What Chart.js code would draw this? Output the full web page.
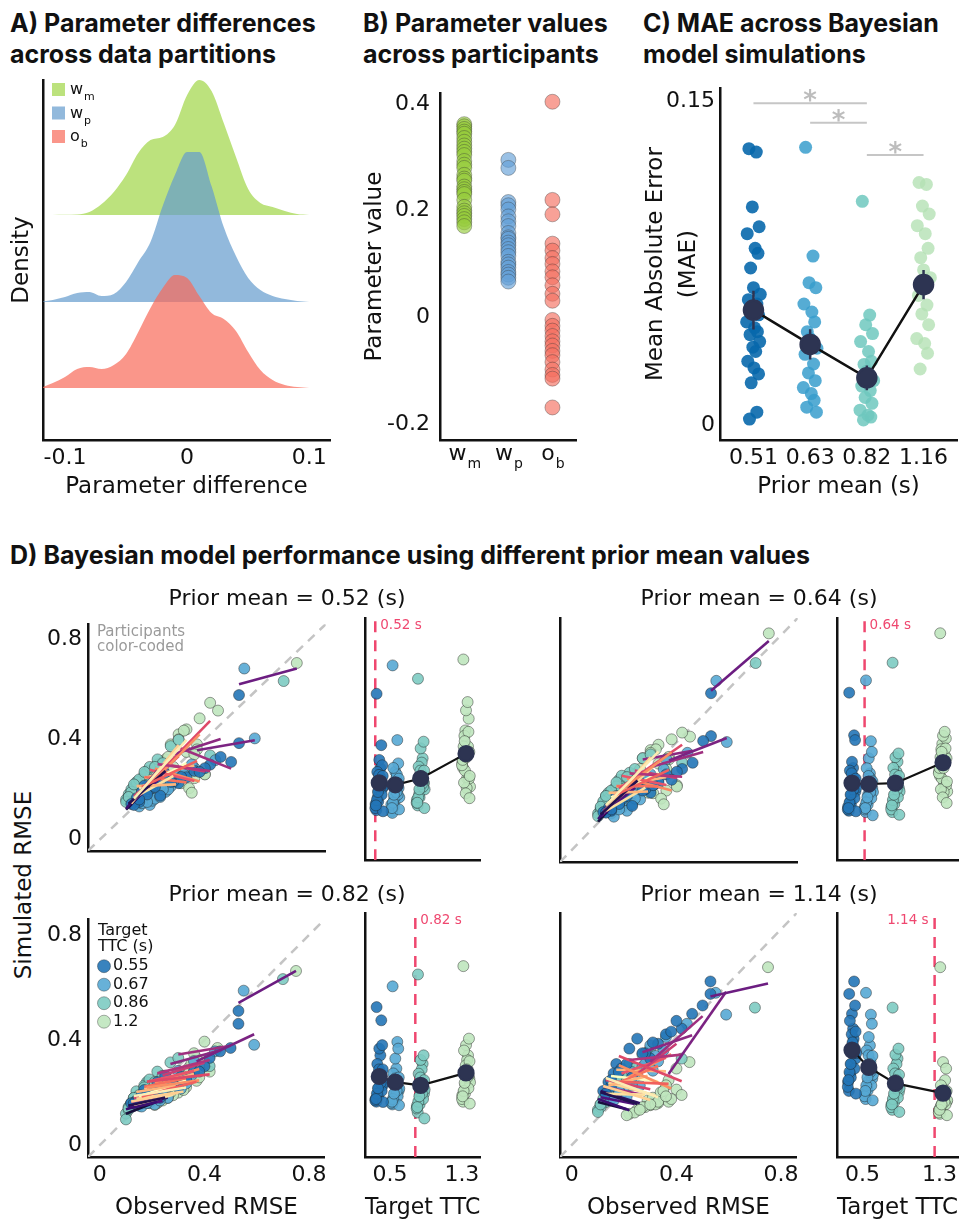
<!DOCTYPE html>
<html>
<head>
<meta charset="utf-8">
<title>Parameter and Bayesian model figure</title>
<script src="https://cdn.jsdelivr.net/npm/chart.js@4.4.1/dist/chart.umd.min.js"></script>
<style>
  body { margin: 0; background: #fff; }
  #fig { position: relative; width: 969px; height: 1223px; overflow: hidden; font-family: "DejaVu Sans", sans-serif; color: #111; }
  #fig canvas { position: absolute; }
  .head { position: absolute; z-index: 2; font-family: Inter, sans-serif; font-weight: 700; font-size: 25px; line-height: 31px; white-space: nowrap; }
  .sub { position: absolute; z-index: 2; font-size: 22px; line-height: 26px; white-space: nowrap; transform: translateX(-50%); }
  .ylab { position: absolute; z-index: 2; font-size: 23px; white-space: nowrap; transform: translate(-50%, -50%) rotate(-90deg); }
</style>
</head>
<body>
<div id="fig">
  <div class="head" style="left:10px;top:8px">A) Parameter differences<br>across data partitions</div>
  <div class="head" style="left:363px;top:8px">B) Parameter values<br>across participants</div>
  <div class="head" style="left:643px;top:8px">C) MAE across Bayesian<br>model simulations</div>
  <div class="head" style="left:10px;top:540px">D) Bayesian model performance using different prior mean values</div>
  <div class="ylab" style="left:23px;top:885px">Simulated RMSE</div>
  <canvas id="cA" width="335" height="440" style="left:0;top:70px"></canvas>
  <canvas id="cB" width="240" height="440" style="left:345px;top:70px"></canvas>
  <canvas id="cC" width="339" height="440" style="left:630px;top:70px"></canvas>
</div>
<script>
// ---------- A) parameter differences (density, read off the ridges) ----------
const densX  = [-0.12, -0.11, -0.10, -0.09, -0.08, -0.07, -0.06, -0.05, -0.04, -0.03, -0.02, -0.01, 0, 0.01, 0.02, 0.03, 0.04, 0.05, 0.06, 0.07, 0.08, 0.09, 0.10];
const densWm = [0, 0, 0.02, 0.05, 0.3, 1.1, 2.3, 4.0, 6.2, 7.5, 7.8, 9.0, 12.0, 13.5, 12.4, 9.2, 5.8, 2.6, 1.2, 0.8, 0.4, 0.1, 0];
const densWp = [0, 0.2, 0.5, 0.9, 1.0, 0.6, 0.8, 2.0, 4.0, 6.0, 9.6, 12.7, 15.0, 15.0, 11.6, 7.5, 4.6, 2.4, 1.2, 0.6, 0.3, 0.1, 0];
const densOb = [0, 0.5, 1.1, 1.9, 2.1, 1.9, 2.3, 3.4, 5.6, 8.0, 10.0, 11.3, 11.0, 9.2, 7.5, 6.9, 5.7, 3.6, 1.8, 0.8, 0.3, 0.1, 0];
const diffTicks = [-0.1, 0, 0.1];
const diffTickLabels = ['-0.1', '0', '0.1'];

// ---------- B) parameter values per participant ----------
const paramNames = [['w', 'm'], ['w', 'p'], ['o', 'b']];
const valWm = [0.362, 0.358, 0.353, 0.348, 0.344, 0.336, 0.329, 0.322, 0.316, 0.31, 0.304, 0.293, 0.286, 0.28, 0.267, 0.26, 0.256, 0.245, 0.24, 0.235, 0.231, 0.22, 0.207, 0.2, 0.195, 0.19, 0.184, 0.178, 0.171];
const valWp = [0.295, 0.28, 0.216, 0.21, 0.202, 0.189, 0.18, 0.171, 0.158, 0.15, 0.147, 0.14, 0.135, 0.128, 0.122, 0.115, 0.104, 0.099, 0.093, 0.085, 0.08, 0.074, 0.067];
const valOb = [0.404, 0.22, 0.193, 0.138, 0.125, 0.111, 0.1, 0.086, 0.075, 0.06, 0.044, 0.031, -0.005, -0.016, -0.025, -0.035, -0.045, -0.053, -0.063, -0.071, -0.084, -0.098, -0.108, -0.115, -0.169];
const valTicks = [-0.2, 0, 0.2, 0.4];
const valTickLabels = ['-0.2', '0', '0.2', '0.4'];

// ---------- C) MAE per simulated prior mean ----------
const priorLabelsC = ['0.51', '0.63', '0.82', '1.16'];
const mae051 = [0.128, 0.1264, 0.101, 0.0918, 0.0886, 0.0818, 0.0795, 0.0727, 0.0636, 0.0605, 0.058, 0.056, 0.053, 0.051, 0.0477, 0.045, 0.0432, 0.0418, 0.0386, 0.036, 0.034, 0.0295, 0.0264, 0.0236, 0.0195, 0.0059, 0.0027];
const mae063 = [0.1286, 0.0782, 0.0659, 0.0636, 0.056, 0.0523, 0.0477, 0.0432, 0.04, 0.0355, 0.0327, 0.0282, 0.0241, 0.0205, 0.0173, 0.0145, 0.0114, 0.0082, 0.0059];
const mae082 = [0.1036, 0.0509, 0.0464, 0.0423, 0.0386, 0.034, 0.0295, 0.028, 0.025, 0.0205, 0.018, 0.0159, 0.0127, 0.01, 0.0068, 0.0045, 0.0036, 0.0023];
const mae116 = [0.1123, 0.1114, 0.1014, 0.0977, 0.0923, 0.0886, 0.0818, 0.0775, 0.0718, 0.0682, 0.06, 0.0555, 0.0514, 0.0464, 0.04, 0.0377, 0.0332, 0.0259];
const maeMean = [0.0532, 0.0373, 0.0218, 0.065];
const maeSE = [0.009, 0.007, 0.0057, 0.0068];
const maeTicks = [0, 0.15];
const maeTickLabels = ['0', '0.15'];
const sigPairs = [[1, 3, 0.149], [2, 3, 0.140], [3, 4, 0.125]];

// ---------- D) observed vs simulated RMSE, 26 participants ----------
const ttcLevels = [0.55, 0.67, 0.86, 1.2];
const priorMeans = [0.52, 0.64, 0.82, 1.14];
const obs055 = [0.53, 0.53, 0.17, 0.30, 0.14, 0.42, 0.22, 0.16, 0.46, 0.28, 0.12, 0.25, 0.23, 0.50, 0.15, 0.33, 0.19, 0.40, 0.13, 0.36, 0.27, 0.18, 0.38, 0.15, 0.31, 0.21];
const obs067 = [0.55, 0.59, 0.22, 0.24, 0.19, 0.30, 0.31, 0.20, 0.36, 0.25, 0.15, 0.33, 0.18, 0.44, 0.21, 0.27, 0.26, 0.35, 0.16, 0.29, 0.23, 0.23, 0.32, 0.18, 0.28, 0.24];
const obs086 = [0.70, 0.42, 0.13, 0.16, 0.11, 0.22, 0.18, 0.12, 0.27, 0.14, 0.10, 0.18, 0.13, 0.30, 0.11, 0.17, 0.14, 0.24, 0.10, 0.19, 0.15, 0.12, 0.21, 0.11, 0.17, 0.13];
const obs120 = [0.75, 0.37, 0.33, 0.37, 0.25, 0.40, 0.38, 0.30, 0.45, 0.29, 0.22, 0.42, 0.28, 0.40, 0.24, 0.31, 0.32, 0.36, 0.21, 0.34, 0.33, 0.27, 0.35, 0.26, 0.36, 0.30];

const sim052_t055 = [0.577, 0.385, 0.215, 0.225, 0.165, 0.299, 0.24, 0.19, 0.33, 0.232, 0.142, 0.262, 0.175, 0.31, 0.15, 0.249, 0.2, 0.285, 0.138, 0.274, 0.23, 0.18, 0.27, 0.16, 0.25, 0.21];
const sim052_t067 = [0.683, 0.404, 0.175, 0.225, 0.138, 0.261, 0.25, 0.155, 0.286, 0.19, 0.132, 0.275, 0.187, 0.317, 0.163, 0.212, 0.2, 0.30, 0.145, 0.236, 0.21, 0.17, 0.26, 0.15, 0.24, 0.20];
const sim052_t086 = [0.633, 0.336, 0.212, 0.243, 0.181, 0.32, 0.25, 0.2, 0.373, 0.22, 0.16, 0.274, 0.19, 0.398, 0.17, 0.26, 0.23, 0.305, 0.15, 0.29, 0.24, 0.19, 0.29, 0.17, 0.27, 0.22];
const sim052_t120 = [0.705, 0.38, 0.44, 0.36, 0.32, 0.261, 0.484, 0.42, 0.515, 0.23, 0.30, 0.546, 0.29, 0.26, 0.31, 0.225, 0.435, 0.245, 0.27, 0.205, 0.35, 0.38, 0.187, 0.33, 0.34, 0.40];

const sim064_t055 = [0.581, 0.422, 0.2, 0.212, 0.155, 0.30, 0.235, 0.175, 0.323, 0.225, 0.14, 0.265, 0.163, 0.404, 0.145, 0.249, 0.187, 0.29, 0.138, 0.28, 0.22, 0.17, 0.26, 0.15, 0.24, 0.20];
const sim064_t067 = [0.627, 0.40, 0.2, 0.225, 0.155, 0.28, 0.24, 0.175, 0.336, 0.21, 0.135, 0.261, 0.163, 0.36, 0.145, 0.25, 0.187, 0.299, 0.123, 0.27, 0.21, 0.17, 0.25, 0.15, 0.23, 0.19];
const sim064_t086 = [0.693, 0.323, 0.2, 0.225, 0.155, 0.286, 0.249, 0.175, 0.34, 0.212, 0.135, 0.26, 0.165, 0.354, 0.145, 0.235, 0.19, 0.30, 0.125, 0.275, 0.22, 0.18, 0.27, 0.16, 0.25, 0.20];
const sim064_t120 = [0.803, 0.345, 0.39, 0.336, 0.286, 0.24, 0.41, 0.37, 0.42, 0.212, 0.27, 0.435, 0.26, 0.235, 0.28, 0.21, 0.373, 0.22, 0.249, 0.19, 0.32, 0.34, 0.169, 0.30, 0.30, 0.36];

const sim082_t055 = [0.511, 0.462, 0.21, 0.22, 0.17, 0.332, 0.24, 0.19, 0.357, 0.23, 0.16, 0.265, 0.18, 0.37, 0.165, 0.25, 0.2, 0.30, 0.159, 0.28, 0.23, 0.19, 0.28, 0.17, 0.26, 0.21];
const sim082_t067 = [0.588, 0.382, 0.19, 0.2, 0.16, 0.283, 0.215, 0.172, 0.32, 0.209, 0.15, 0.235, 0.165, 0.357, 0.155, 0.225, 0.18, 0.265, 0.147, 0.246, 0.20, 0.17, 0.25, 0.16, 0.23, 0.19];
const sim082_t086 = [0.632, 0.301, 0.18, 0.19, 0.145, 0.28, 0.215, 0.159, 0.315, 0.205, 0.12, 0.24, 0.15, 0.332, 0.135, 0.227, 0.17, 0.264, 0.098, 0.25, 0.19, 0.16, 0.24, 0.14, 0.22, 0.18];
const sim082_t120 = [0.663, 0.332, 0.221, 0.245, 0.184, 0.315, 0.258, 0.2, 0.37, 0.232, 0.16, 0.28, 0.19, 0.394, 0.17, 0.27, 0.21, 0.35, 0.153, 0.295, 0.25, 0.20, 0.31, 0.18, 0.28, 0.23];

const sim114_t055 = [0.56, 0.606, 0.30, 0.32, 0.233, 0.431, 0.357, 0.265, 0.486, 0.34, 0.2, 0.394, 0.25, 0.517, 0.215, 0.375, 0.283, 0.46, 0.19, 0.41, 0.34, 0.27, 0.42, 0.24, 0.38, 0.30];
const sim114_t067 = [0.564, 0.483, 0.235, 0.246, 0.19, 0.369, 0.275, 0.21, 0.40, 0.26, 0.17, 0.31, 0.202, 0.449, 0.18, 0.289, 0.22, 0.35, 0.165, 0.332, 0.27, 0.22, 0.33, 0.20, 0.30, 0.25];
const sim114_t086 = [0.509, 0.32, 0.185, 0.196, 0.15, 0.30, 0.22, 0.165, 0.335, 0.21, 0.13, 0.25, 0.159, 0.357, 0.14, 0.233, 0.175, 0.283, 0.122, 0.265, 0.21, 0.17, 0.26, 0.15, 0.24, 0.19];
const sim114_t120 = [0.659, 0.24, 0.155, 0.16, 0.13, 0.205, 0.17, 0.147, 0.307, 0.165, 0.115, 0.185, 0.14, 0.283, 0.12, 0.175, 0.15, 0.221, 0.11, 0.195, 0.16, 0.14, 0.20, 0.13, 0.18, 0.15];

const rmseTicks = [0, 0.4, 0.8];
const rmseTickLabels = ['0', '0.4', '0.8'];
const ttcTicks = [0.5, 1.3];
const ttcTickLabels = ['0.5', '1.3'];

// ---------- styles / layout ----------
const ridgeBase = [22.5, 13.8, 5.2];
const ridgeColors = ['rgba(160,214,70,0.7)', 'rgba(100,155,205,0.7)', 'rgba(248,105,88,0.7)'];
const paramColors = ['rgba(150,205,60,0.65)', 'rgba(100,160,215,0.65)', 'rgba(245,110,95,0.65)'];
const maeColors = ['rgba(8,104,172,0.9)', 'rgba(56,157,204,0.85)', 'rgba(110,200,190,0.85)', 'rgba(180,225,180,0.8)'];
const ttcColors = ['rgba(35,118,183,0.9)', 'rgba(86,168,212,0.9)', 'rgba(125,203,194,0.9)', 'rgba(191,230,190,0.9)'];
const lineColors = ['#6c1d81', '#7b2382', '#fcecb3', '#f1605d', '#231151', '#b0357b', '#fa8e63', '#fecf92', '#8c2981', '#feb47a',
                    '#3b0f70', '#de4968', '#fde0a0', '#9e2f7f', '#51127c', '#f7705c', '#fed395', '#c83e73', '#160f3b', '#e9556a',
                    '#fcfdbf', '#a3307e', '#fb8861', '#2c115f', '#feb77e', '#d6456c'];
const navy = '#2d3452';
const priorRed = '#ef476f';
const jitterC = [-0.08, 0.05, -0.02, 0.10, -0.11, 0.03, 0.08, -0.05, 0.00, 0.12, -0.09, 0.06, -0.03, 0.09,
                 -0.12, 0.02, 0.07, -0.06, 0.11, -0.01, 0.04, -0.10, 0.01, 0.09, -0.04, 0.06, -0.07, 0.03];
const jitterD = [-0.02, 0.015, -0.005, 0.025, -0.028, 0.008, 0.02, -0.012, 0, 0.03, -0.022, 0.012, -0.008,
                 0.022, -0.03, 0.005, 0.018, -0.015, 0.028, -0.002, 0.01, -0.018, 0.026, -0.025, 0.004, -0.01];
const dLayout = [
  {sx: 40,  sw: 292, sy: 48, tx: 355, tw: 135, tr: 4,  top: 605, row: 0, mid: 287},
  {sx: 540, sw: 264, sy: 20, tx: 827, tw: 142, tr: 11, top: 605, row: 0, mid: 759},
  {sx: 40,  sw: 292, sy: 48, tx: 355, tw: 135, tr: 4,  top: 900, row: 1, mid: 287},
  {sx: 540, sw: 264, sy: 20, tx: 827, tw: 142, tr: 11, top: 900, row: 1, mid: 759}
];

Chart.defaults.font.family = '"DejaVu Sans", sans-serif';
Chart.defaults.color = '#111';
Chart.defaults.animation = false;
Chart.defaults.events = [];
Chart.defaults.plugins.legend.display = false;
Chart.defaults.plugins.tooltip.enabled = false;

// ---------- helpers ----------
function mean(a) { return a.reduce((s, v) => s + v, 0) / a.length; }

function fitLine(xs, ys) {
  const mx = mean(xs), my = mean(ys);
  let sxy = 0, sxx = 0;
  xs.forEach((x, i) => { sxy += (x - mx) * (ys[i] - my); sxx += (x - mx) * (x - mx); });
  const b = sxx ? sxy / sxx : 0;
  const lo = Math.min(...xs), hi = Math.max(...xs);
  return [{x: lo, y: my + b * (lo - mx)}, {x: hi, y: my + b * (hi - mx)}];
}

function fixSize(px) {
  return s => { if (s.isHorizontal()) s.height = px; else s.width = px; };
}
function useTicks(vals) {
  return s => { s.ticks = vals.map(v => ({value: v})); };
}
function tickText(vals, labels) {
  return v => { const i = vals.indexOf(v); return i < 0 ? '' : labels[i]; };
}
function axis(extra) {
  return Object.assign({
    type: 'linear',
    grid: {display: false, drawTicks: false},
    border: {color: '#111', width: 2.5}
  }, extra);
}
function ticksOn(vals, labels, pad, more) {
  return Object.assign({padding: pad, font: {size: 22}, maxRotation: 0, autoSkip: false,
                        callback: tickText(vals, labels)}, more || {});
}
function drawSub(ctx, base, sub, x, y, bs, ss, align) {
  ctx.font = bs + 'px "DejaVu Sans"';
  const wb = ctx.measureText(base).width;
  ctx.font = ss + 'px "DejaVu Sans"';
  const ws = ctx.measureText(sub).width;
  const x0 = align === 'center' ? x - (wb + ws) / 2 : x;
  ctx.textAlign = 'left';
  ctx.textBaseline = 'alphabetic';
  ctx.font = bs + 'px "DejaVu Sans"';
  ctx.fillText(base, x0, y);
  ctx.font = ss + 'px "DejaVu Sans"';
  ctx.fillText(sub, x0 + wb + 1, y + ss * 0.55);
}
function pointSet(points, color, r, border, order) {
  return {data: points, showLine: false, pointRadius: r, pointBackgroundColor: color,
          pointBorderColor: border || color, pointBorderWidth: border ? 0.8 : 0, order: order || 1};
}
const baseOpts = {responsive: false, devicePixelRatio: 1};

// ---------- A ----------
const legendA = {
  id: 'legendA',
  afterDraw(chart) {
    const {ctx, chartArea: a} = chart;
    ctx.save();
    paramNames.forEach((n, i) => {
      const y = a.top + 3 + i * 23.5;
      ctx.fillStyle = ridgeColors[i];
      ctx.fillRect(a.left + 9, y, 13, 13);
      ctx.fillStyle = '#111';
      drawSub(ctx, n[0], n[1], a.left + 27, y + 11, 16, 11, 'left');
    });
    ctx.restore();
  }
};
new Chart(document.getElementById('cA'), {
  type: 'line',
  data: {
    datasets: [densOb, densWp, densWm].map((d, k) => {
      const i = 2 - k;
      return {
        data: densX.map((x, j) => ({x, y: ridgeBase[i] + d[j]})),
        fill: {value: ridgeBase[i]}, backgroundColor: ridgeColors[i],
        borderWidth: 0, borderColor: 'rgba(0,0,0,0)', pointRadius: 0, cubicInterpolationMode: 'monotone'
      };
    })
  },
  options: Object.assign({}, baseOpts, {
    layout: {padding: {top: 10, right: 5, left: 0, bottom: 0}},
    scales: {
      x: axis({min: -0.118, max: 0.117, afterBuildTicks: useTicks(diffTicks), afterFit: fixSize(70),
               ticks: ticksOn(diffTicks, diffTickLabels, 5),
               title: {display: true, text: 'Parameter difference', font: {size: 23}, padding: {top: 0, bottom: 9}}}),
      y: axis({min: 0, max: 36, afterFit: fixSize(43), ticks: {display: false},
               title: {display: true, text: 'Density', font: {size: 23}, padding: {top: 8, bottom: 0}}})
    }
  }),
  plugins: [legendA]
});

// ---------- B ----------
const subTicksB = {
  id: 'subTicksB',
  afterDraw(chart) {
    const {ctx, chartArea: a} = chart;
    ctx.save();
    ctx.fillStyle = '#111';
    paramNames.forEach((n, i) => {
      drawSub(ctx, n[0], n[1], chart.scales.x.getPixelForValue(i + 1), a.bottom + 20, 22, 14, 'center');
    });
    ctx.restore();
  }
};
new Chart(document.getElementById('cB'), {
  type: 'line',
  data: {
    datasets: [valWm, valWp, valOb].map((vals, i) =>
      pointSet(vals.map(v => ({x: i + 1, y: v})), paramColors[i], 7.5, 'rgba(50,50,50,0.45)'))
  },
  options: Object.assign({}, baseOpts, {
    layout: {padding: {top: 13, right: 5, left: 0, bottom: 0}},
    scales: {
      x: axis({min: 0.45, max: 3.55, afterFit: fixSize(70), ticks: {display: false}}),
      y: axis({min: -0.23, max: 0.42, afterBuildTicks: useTicks(valTicks), afterFit: fixSize(95),
               ticks: ticksOn(valTicks, valTickLabels, 10),
               title: {display: true, text: 'Parameter value', font: {size: 23}, padding: {top: 16, bottom: 0}}})
    }
  }),
  plugins: [subTicksB]
});

// ---------- C ----------
const sigBars = {
  id: 'sigBars',
  afterDatasetsDraw(chart) {
    const {ctx, scales: {x, y}} = chart;
    ctx.save();
    ctx.strokeStyle = '#c6c6c6';
    ctx.lineWidth = 2;
    ctx.fillStyle = '#bdbdbd';
    ctx.font = 'bold 26px "DejaVu Sans"';
    ctx.textAlign = 'center';
    ctx.textBaseline = 'alphabetic';
    sigPairs.forEach(([g1, g2, h]) => {
      const py = y.getPixelForValue(h);
      ctx.beginPath();
      ctx.moveTo(x.getPixelForValue(g1), py);
      ctx.lineTo(x.getPixelForValue(g2), py);
      ctx.stroke();
      ctx.fillText('*', x.getPixelForValue((g1 + g2) / 2), py + 6);
    });
    ctx.restore();
  }
};
const errData = [];
maeMean.forEach((m, i) => {
  errData.push({x: i + 1, y: m - maeSE[i]}, {x: i + 1, y: m + maeSE[i]}, {x: i + 1, y: null});
});
new Chart(document.getElementById('cC'), {
  type: 'line',
  data: {
    datasets: [
      {data: maeMean.map((m, i) => ({x: i + 1, y: m})), borderColor: '#111', borderWidth: 2.5,
       pointRadius: 9.5, pointBackgroundColor: navy, pointBorderColor: navy, order: 0},
      {data: errData, borderColor: navy, borderWidth: 2.5, pointRadius: 0, spanGaps: false, order: 0},
      ...[mae051, mae063, mae082, mae116].map((vals, g) =>
        pointSet(vals.map((v, j) => ({x: g + 1 + jitterC[j], y: v})), maeColors[g], 6.5, null, 2))
    ]
  },
  options: Object.assign({}, baseOpts, {
    layout: {padding: {top: 12, right: 2, left: 0, bottom: 0}},
    scales: {
      x: axis({min: 0.41, max: 4.59, afterBuildTicks: useTicks([1, 2, 3, 4]), afterFit: fixSize(70),
               ticks: ticksOn([1, 2, 3, 4], priorLabelsC, 5),
               title: {display: true, text: 'Prior mean (s)', font: {size: 23}, padding: {top: 0, bottom: 9}}}),
      y: axis({min: -0.007, max: 0.156, afterBuildTicks: useTicks(maeTicks), afterFit: fixSize(90),
               ticks: ticksOn(maeTicks, maeTickLabels, 5),
               title: {display: true, text: ['Mean Absolute Error', '(MAE)'], font: {size: 23, lineHeight: 1.43},
                       padding: {top: 9.5, bottom: 0}}})
    }
  }),
  plugins: [sigBars]
});

// ---------- D ----------
const obsByTtc = [obs055, obs067, obs086, obs120];
const simsByPrior = [
  [sim052_t055, sim052_t067, sim052_t086, sim052_t120],
  [sim064_t055, sim064_t067, sim064_t086, sim064_t120],
  [sim082_t055, sim082_t067, sim082_t086, sim082_t120],
  [sim114_t055, sim114_t067, sim114_t086, sim114_t120]
];

const priorTag = {
  id: 'priorTag',
  afterDatasetsDraw(chart, args, opts) {
    const {ctx, chartArea: a} = chart;
    const px = chart.scales.x.getPixelForValue(opts.value);
    const text = opts.value.toFixed(2) + ' s';
    ctx.save();
    ctx.font = '13.5px "DejaVu Sans"';
    ctx.fillStyle = priorRed;
    ctx.textBaseline = 'middle';
    const flip = px + 6 + ctx.measureText(text).width > a.right;
    ctx.textAlign = flip ? 'right' : 'left';
    ctx.fillText(text, flip ? px - 6 : px + 5, a.top + 7);
    ctx.restore();
  }
};
const noteTL = {
  id: 'noteTL',
  afterDraw(chart) {
    const {ctx, chartArea: a} = chart;
    ctx.save();
    ctx.font = '15px "DejaVu Sans"';
    ctx.fillStyle = '#9a9a9a';
    ctx.textAlign = 'left';
    ctx.textBaseline = 'middle';
    ctx.fillText('Participants', a.left + 9, a.top + 8);
    ctx.fillText('color-coded', a.left + 9, a.top + 23);
    ctx.restore();
  }
};
const ttcLegend = {
  id: 'ttcLegend',
  afterDraw(chart) {
    const {ctx, chartArea: a} = chart;
    ctx.save();
    ctx.font = '16px "DejaVu Sans"';
    ctx.textAlign = 'left';
    ctx.textBaseline = 'middle';
    ctx.fillStyle = '#111';
    ctx.fillText('Target', a.left + 10, a.top + 12);
    ctx.fillText('TTC (s)', a.left + 10, a.top + 28);
    ttcLevels.forEach((t, g) => {
      const y = a.top + 47 + g * 18.5;
      ctx.beginPath();
      ctx.arc(a.left + 16, y, 6.5, 0, Math.PI * 2);
      ctx.fillStyle = ttcColors[g];
      ctx.fill();
      ctx.strokeStyle = 'rgba(30,30,30,0.5)';
      ctx.lineWidth = 0.7;
      ctx.stroke();
      ctx.fillStyle = '#111';
      ctx.fillText(String(t), a.left + 25, y);
    });
    ctx.restore();
  }
};

function addCanvas(left, top, w, h) {
  const c = document.createElement('canvas');
  c.width = w; c.height = h;
  c.style.left = left + 'px'; c.style.top = top + 'px';
  document.getElementById('fig').appendChild(c);
  return c;
}

priorMeans.forEach((prior, k) => {
  const L = dLayout[k];
  const sims = simsByPrior[k];
  const bottom = L.row === 1;
  const h = bottom ? 323 : 265;
  const xh = bottom ? 66 : 8;

  const t = document.createElement('div');
  t.className = 'sub';
  t.style.left = L.mid + 'px';
  t.style.top = (bottom ? 881 : 585) + 'px';
  t.textContent = 'Prior mean = ' + prior.toFixed(2) + ' (s)';
  document.getElementById('fig').appendChild(t);

  // observed vs simulated scatter with per-participant fits
  const scatterSets = [
    {data: [{x: -0.045, y: -0.045}, {x: 0.86, y: 0.86}], borderColor: '#c4c4c4', borderWidth: 2.5,
     borderDash: [9, 7], pointRadius: 0, order: 3},
    ...ttcLevels.map((lvl, g) =>
      pointSet(obsByTtc[g].map((x, i) => ({x, y: sims[g][i]})), ttcColors[g], 5.5, 'rgba(30,30,30,0.55)', 2)),
    ...lineColors.map((c, i) => ({
      data: fitLine(obsByTtc.map(a => a[i]), sims.map(a => a[i])),
      borderColor: c, borderWidth: 2.6, pointRadius: 0, order: 1
    }))
  ];
  const scatterPlugins = [];
  if (k === 0) scatterPlugins.push(noteTL);
  if (k === 2) scatterPlugins.push(ttcLegend);
  new Chart(addCanvas(L.sx, L.top, L.sw, h), {
    type: 'line',
    data: {datasets: scatterSets},
    options: Object.assign({}, baseOpts, {
      layout: {padding: {top: 13, right: 4, left: 0, bottom: 0}},
      scales: {
        x: axis({min: -0.045, max: 0.86, afterBuildTicks: useTicks(rmseTicks), afterFit: fixSize(xh),
                 ticks: bottom ? ticksOn(rmseTicks, rmseTickLabels, 5) : {display: false},
                 title: {display: bottom, text: 'Observed RMSE', font: {size: 23}, padding: {top: 0, bottom: 1}}}),
        y: axis({min: -0.045, max: 0.86, afterBuildTicks: useTicks(rmseTicks), afterFit: fixSize(L.sy),
                 ticks: L.sy > 30 ? ticksOn(rmseTicks, rmseTickLabels, 6) : {display: false}})
      }
    }),
    plugins: scatterPlugins
  });

  // simulated RMSE by target TTC
  const ttcSets = [
    {data: [{x: prior, y: -0.045}, {x: prior, y: 0.86}], borderColor: priorRed, borderWidth: 2.5,
     borderDash: [11, 8], pointRadius: 0, order: 2},
    ...ttcLevels.map((lvl, g) =>
      pointSet(sims[g].map((y, i) => ({x: lvl + jitterD[i], y})), ttcColors[g], 5.5, 'rgba(30,30,30,0.55)', 1)),
    {data: ttcLevels.map((lvl, g) => ({x: lvl, y: mean(sims[g])})), borderColor: '#111', borderWidth: 2.2,
     pointRadius: 7.5, pointBackgroundColor: navy, pointBorderColor: navy, order: 0}
  ];
  new Chart(addCanvas(L.tx, L.top, L.tw, h), {
    type: 'line',
    data: {datasets: ttcSets},
    options: Object.assign({}, baseOpts, {
      layout: {padding: {top: 13, right: L.tr, left: 0, bottom: 0}},
      scales: {
        x: axis({min: 0.443, max: 1.307, afterBuildTicks: useTicks(ttcTicks), afterFit: fixSize(xh),
                 ticks: bottom ? ticksOn(ttcTicks, ttcTickLabels, 5, {align: 'inner'}) : {display: false},
                 title: {display: bottom, text: 'Target TTC', font: {size: 23}, padding: {top: 0, bottom: 1}}}),
        y: axis({min: -0.045, max: 0.86, afterFit: fixSize(10), ticks: {display: false}})
      },
      plugins: {priorTag: {value: prior}}
    }),
    plugins: [priorTag]
  });
});
</script>
</body>
</html>
